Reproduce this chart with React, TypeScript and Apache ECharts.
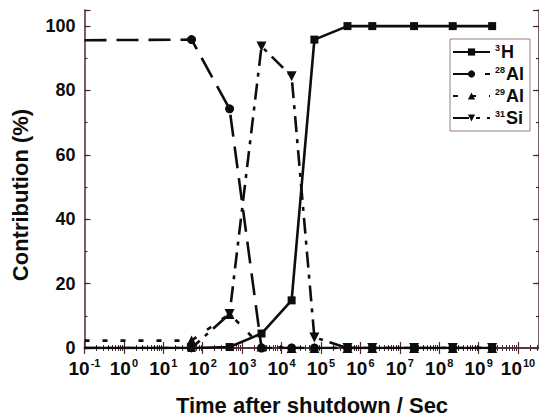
import { useEffect, useRef } from 'react';
import * as echarts from 'echarts';

// Time after shutdown (s) for each computed point
const times = [0.1, 52, 480, 3100, 1.8e4, 6.8e4, 4.7e5, 2.0e6, 2.3e7, 2.2e8, 2.2e9];
// Contribution (%) per nuclide
const h3 = [0, 0, 0.3, 4.5, 14.8, 95.8, 100, 100, 100, 100, 100];
const al28 = [95.6, 95.8, 74.3, 0, 0, 0, 0, 0, 0, 0, 0];
const al29 = [2.3, 2.3, 10.6, 0.5, 0, 0, 0, 0, 0, 0, 0];
const si31 = [0, 0, 10.6, 93.7, 84.4, 3.3, 0, 0, 0, 0, 0];

const seriesNames = ['3H', '28Al', '29Al', '31Si'];
const decades = [-1, 0, 1, 2, 3, 4, 5, 6, 7, 8, 9, 10];
const xMin = 0.1;
const xMax = 3.4e10;
const yMin = 0;
const yMax = 105;
const yMajor = 20;
const yMinor = 10;

const FONT = '"Liberation Sans", Arial, Helvetica, sans-serif';
const SPINE = '#4a2a32';
const INK = '#0d0d0d';

const majorVals = decades.map((d) => Math.pow(10, d));
const minorVals: number[] = [];
decades.concat([11]).forEach((d) => {
  for (let k = 2; k <= 9; k++) minorVals.push(k * Math.pow(10, d - 1));
});
const minorInRange = minorVals.filter((v) => v > xMin && v < xMax);

function pairs(vals: number[]) {
  return vals.map((v, i) =>
    i === 0 ? { value: [times[i], v], symbol: 'none' } : { value: [times[i], v] }
  );
}

export default function App() {
  const ref = useRef<HTMLDivElement>(null);
  useEffect(() => {
    if (!ref.current) return;
    const chart = echarts.init(ref.current, undefined, { renderer: 'svg' });

    const xBase = (position: string, show: boolean) => ({
      type: 'log',
      logBase: 10,
      min: xMin,
      max: xMax,
      position,
      gridIndex: 0,
      splitLine: { show: false },
      axisLine: { show, lineStyle: { color: SPINE, width: 1.5 } },
    });

    const majorTick = {
      show: true,
      inside: true,
      length: 6,
      customValues: majorVals,
      lineStyle: { color: SPINE, width: 1.2 },
    };
    const minorTick = {
      show: true,
      inside: true,
      length: 3,
      customValues: minorInRange,
      lineStyle: { color: SPINE, width: 1 },
    };

    const yBase = (position: string, show: boolean, interval: number, len: number) => ({
      type: 'value',
      min: yMin,
      max: yMax,
      interval,
      position,
      splitLine: { show: false },
      axisLine: { show, lineStyle: { color: SPINE, width: 1.5 } },
      axisTick: { show: true, inside: true, length: len, lineStyle: { color: SPINE, width: 1.2 } },
      axisLabel: { show: false },
    });

    const lineSeries = (name: string, vals: number[], symbol: string, size: number, type: any, extra: any = {}) => ({
      name,
      type: 'line',
      xAxisIndex: 0,
      yAxisIndex: 0,
      data: pairs(vals),
      symbol,
      symbolSize: size,
      showSymbol: true,
      clip: true,
      lineStyle: { color: INK, width: 2.6, type },
      itemStyle: { color: INK },
      ...extra,
    });

    chart.setOption({
      animation: false,
      backgroundColor: '#ffffff',
      textStyle: { fontFamily: FONT },
      grid: { left: 84.5, right: -1, top: 10, bottom: 70, containLabel: false },
      xAxis: [
        {
          ...xBase('bottom', true),
          axisTick: majorTick,
          axisLabel: {
            show: true,
            customValues: majorVals,
            margin: 9,
            fontSize: 19,
            fontWeight: 'bold',
            color: INK,
            fontFamily: FONT,
            lineHeight: 22,
            formatter: (v: number) => `10{s|${Math.round(Math.log10(v))}}`,
            rich: {
              s: {
                fontSize: 11,
                fontWeight: 'bold',
                color: INK,
                fontFamily: FONT,
                verticalAlign: 'top',
                lineHeight: 12,
                padding: [0, 0, 0, 1],
              },
            },
          },
        },
        { ...xBase('bottom', false), axisTick: minorTick, axisLabel: { show: false } },
        { ...xBase('top', true), axisTick: majorTick, axisLabel: { show: false } },
        { ...xBase('top', false), axisTick: minorTick, axisLabel: { show: false } },
      ],
      yAxis: [
        {
          ...yBase('left', true, yMajor, 6),
          axisLabel: {
            show: true,
            margin: 9,
            fontSize: 18,
            fontWeight: 'bold',
            color: INK,
            fontFamily: FONT,
            formatter: (v: number) => (v % yMajor === 0 ? String(v) : ''),
          },
        },
        yBase('right', true, yMajor, 6),
        yBase('left', false, yMinor, 3),
        yBase('right', false, yMinor, 3),
      ],
      legend: {
        orient: 'vertical',
        left: 450,
        top: 39,
        data: seriesNames,
        itemWidth: 37,
        itemHeight: 9,
        itemGap: 4,
        padding: [4, 6, 4, 2],
        borderColor: '#9a7c80',
        borderWidth: 1,
        backgroundColor: '#ffffff',
        formatter: (name: string) => {
          const m = name.match(/^(\d+)(\D+)$/);
          return m ? `{s|${m[1]}}${m[2]}` : name;
        },
        textStyle: {
          color: INK,
          fontSize: 18,
          fontWeight: 'bold',
          fontFamily: FONT,
          lineHeight: 18,
          rich: {
            s: { fontSize: 9, fontWeight: 'bold', color: INK, fontFamily: FONT, verticalAlign: 'top', lineHeight: 10, padding: [0, 1, 0, 0] },
          },
        },
      },
      graphic: [
        {
          type: 'text',
          x: 20,
          y: 195,
          rotation: Math.PI / 2,
          style: {
            text: 'Contribution (%)',
            font: `bold 22px ${FONT}`,
            fill: INK,
            align: 'center',
            verticalAlign: 'middle',
          },
        },
        {
          type: 'text',
          x: 312,
          y: 405,
          style: {
            text: 'Time after shutdown / Sec',
            font: `bold 22px ${FONT}`,
            fill: INK,
            align: 'center',
            verticalAlign: 'middle',
          },
        },
      ],
      series: [
        lineSeries('3H', h3, 'rect', 8, 'solid'),
        lineSeries('28Al', al28, 'circle', 9, [22, 10]),
        lineSeries('29Al', al29, 'triangle', 10, [5, 13]),
        lineSeries('31Si', si31, 'triangle', 10, [16, 7, 4, 7], { symbolRotate: 180 }),
      ],
    });
    return () => chart.dispose();
  }, []);
  return (
    <div
      ref={ref}
      style={{ position: 'absolute', left: 0, top: 0, width: 539, height: 418, background: '#fff' }}
    />
  );
}
